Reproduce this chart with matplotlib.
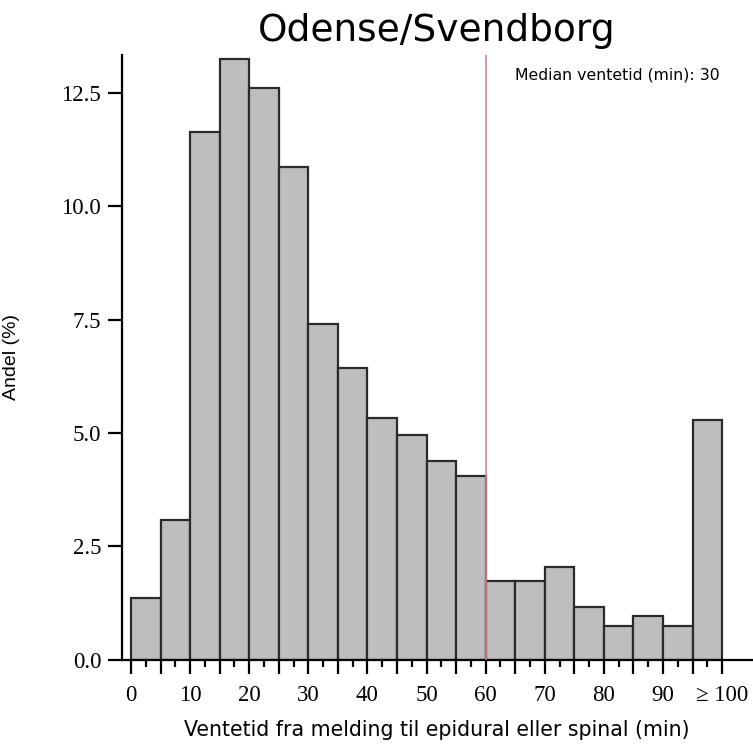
import numpy as np
import matplotlib.pyplot as plt

# andel (%) per 5-min interval, last bin is >= 100
bin_starts = [0, 5, 10, 15, 20, 25, 30, 35, 40, 45, 50, 55, 60, 65, 70, 75, 80, 85, 90, 95]
andel = [1.37, 3.09, 11.64, 13.25, 12.61, 10.87, 7.40, 6.43, 5.34, 4.95,
         4.39, 4.06, 1.74, 1.74, 2.05, 1.17, 0.75, 0.97, 0.75, 5.28]
median_min = 30
median_line = 60
xtick_pos = [0, 10, 20, 30, 40, 50, 60, 70, 80, 90, 100]
xtick_labels = ['0', '10', '20', '30', '40', '50', '60', '70', '80', '90', '\u2265 100']
ytick_pos = [0.0, 2.5, 5.0, 7.5, 10.0, 12.5]

fig = plt.figure(figsize=(7.53, 7.49), dpi=100)
ax = fig.add_axes([0.162, 0.119, 0.837, 0.808])

ax.bar(bin_starts, andel, width=5, align='edge', color='#bebebe',
       edgecolor='#2b2b2b', linewidth=1.6, zorder=2)
ax.axvline(median_line, color='#d9828c', linewidth=1.2, zorder=3)

ax.set_xlim(-1.52, 105.1)
ax.set_ylim(0, 13.34)

for s in ['top', 'right']:
    ax.spines[s].set_visible(False)
for s in ['left', 'bottom']:
    ax.spines[s].set_linewidth(1.6)
    ax.spines[s].set_color('black')

ax.set_xticks(np.arange(0, 101, 5), minor=False)
ax.set_xticklabels([xtick_labels[xtick_pos.index(v)] if v in xtick_pos else ''
                    for v in range(0, 101, 5)],
                   fontfamily=['Liberation Serif', 'DejaVu Serif'], fontsize=16.5)
ax.set_xticks(np.arange(2.5, 100, 5), minor=True)
ax.tick_params(axis='x', which='major', length=10, width=1.6, pad=8)
ax.tick_params(axis='x', which='minor', length=5, width=1.6)

ax.set_yticks(ytick_pos)
ax.set_yticklabels([f'{v:.1f}' for v in ytick_pos],
                   fontfamily='Liberation Serif', fontsize=16.5)
ax.tick_params(axis='y', length=10, width=1.6, pad=5)

ax.set_title('Odense/Svendborg', fontsize=27, fontfamily='DejaVu Sans', pad=10)
ax.set_xlabel('Ventetid fra melding til epidural eller spinal (min)',
              fontsize=14.8, fontfamily='DejaVu Sans', labelpad=10)
ax.set_ylabel('Andel (%)', fontsize=14, fontfamily='Liberation Sans')
ax.yaxis.set_label_coords(-0.162, 0.5)

ax.text(0.949, 0.967, f'Median ventetid (min): {median_min}', transform=ax.transAxes,
        ha='right', va='center', fontsize=11.3, fontfamily='DejaVu Sans')

fig.savefig('out.png', dpi=100)
